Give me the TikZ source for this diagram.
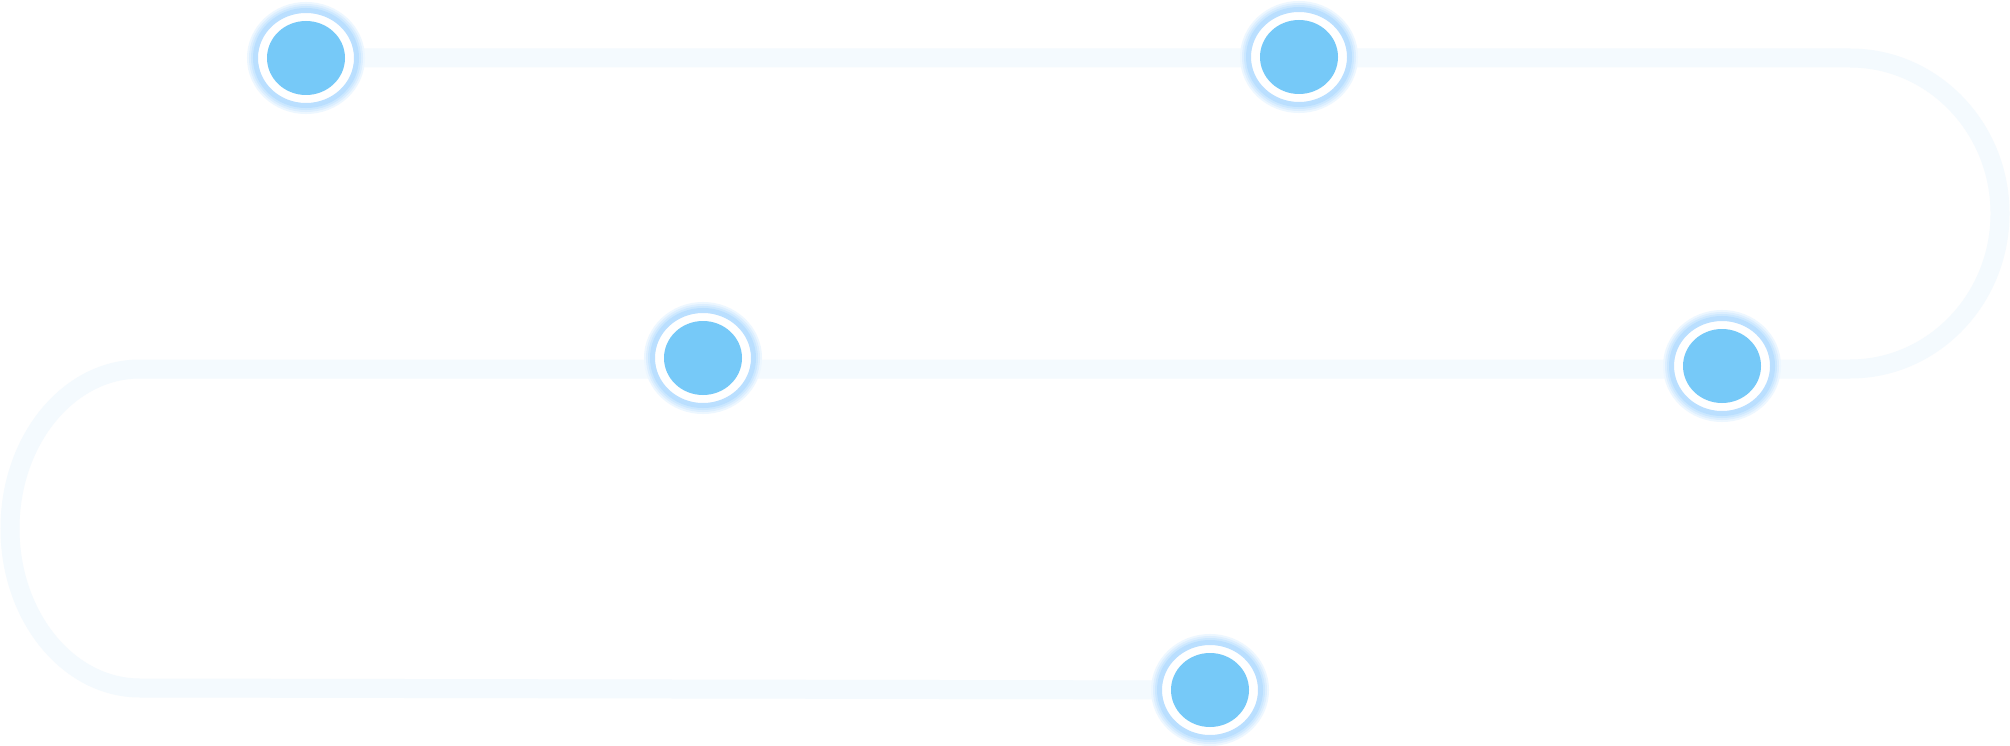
\documentclass[tikz,border=0pt]{standalone}
\usetikzlibrary{shapes.geometric,backgrounds}
\definecolor{trackc}{HTML}{F4FAFE}
\definecolor{ring0}{HTML}{EDF7FF}
\definecolor{ringa}{HTML}{DDEFFF}
\definecolor{ringb}{HTML}{CCE8FF}
\definecolor{ringc}{HTML}{BADFFF}
\definecolor{diskc}{HTML}{76C9F8}
\tikzset{
  track/.style={draw=trackc, line width=19pt},
  dotnode/.style={shape=ellipse, inner sep=0pt, outer sep=0pt,
    minimum width=101pt, minimum height=95pt, fill=white,
    preaction={draw=ring0, line width=17pt},
    preaction={draw=ringa, line width=13pt},
    preaction={draw=ringb, line width=9pt},
    draw=ringc, line width=5pt,
    path picture={\fill[diskc] (path picture bounding box.center) ellipse [x radius=39pt, y radius=37pt];}}
}
\begin{document}
\begin{tikzpicture}[x=1pt,y=-1pt]
\useasboundingbox (0,0) rectangle (2010,746);
\node[dotnode] (n1) at (306,58) {};
\node[dotnode] (n2) at (1299,57) {};
\node[dotnode] (n3) at (703,358) {};
\node[dotnode] (n4) at (1722,366) {};
\node[dotnode] (n5) at (1210,690) {};
\coordinate (rtop) at (1850,58);
\begin{scope}[on background layer]
\fill[white] (0,0) rectangle (2010,746);
\draw[track] (n1.center) -- (rtop)
  arc[start angle=-90, end angle=90, x radius=150, y radius=155.5]
  -- (140,369)
  arc[start angle=-90, end angle=-270, x radius=130, y radius=159.5]
  -- (n5.center);
\end{scope}
\end{tikzpicture}
\end{document}
